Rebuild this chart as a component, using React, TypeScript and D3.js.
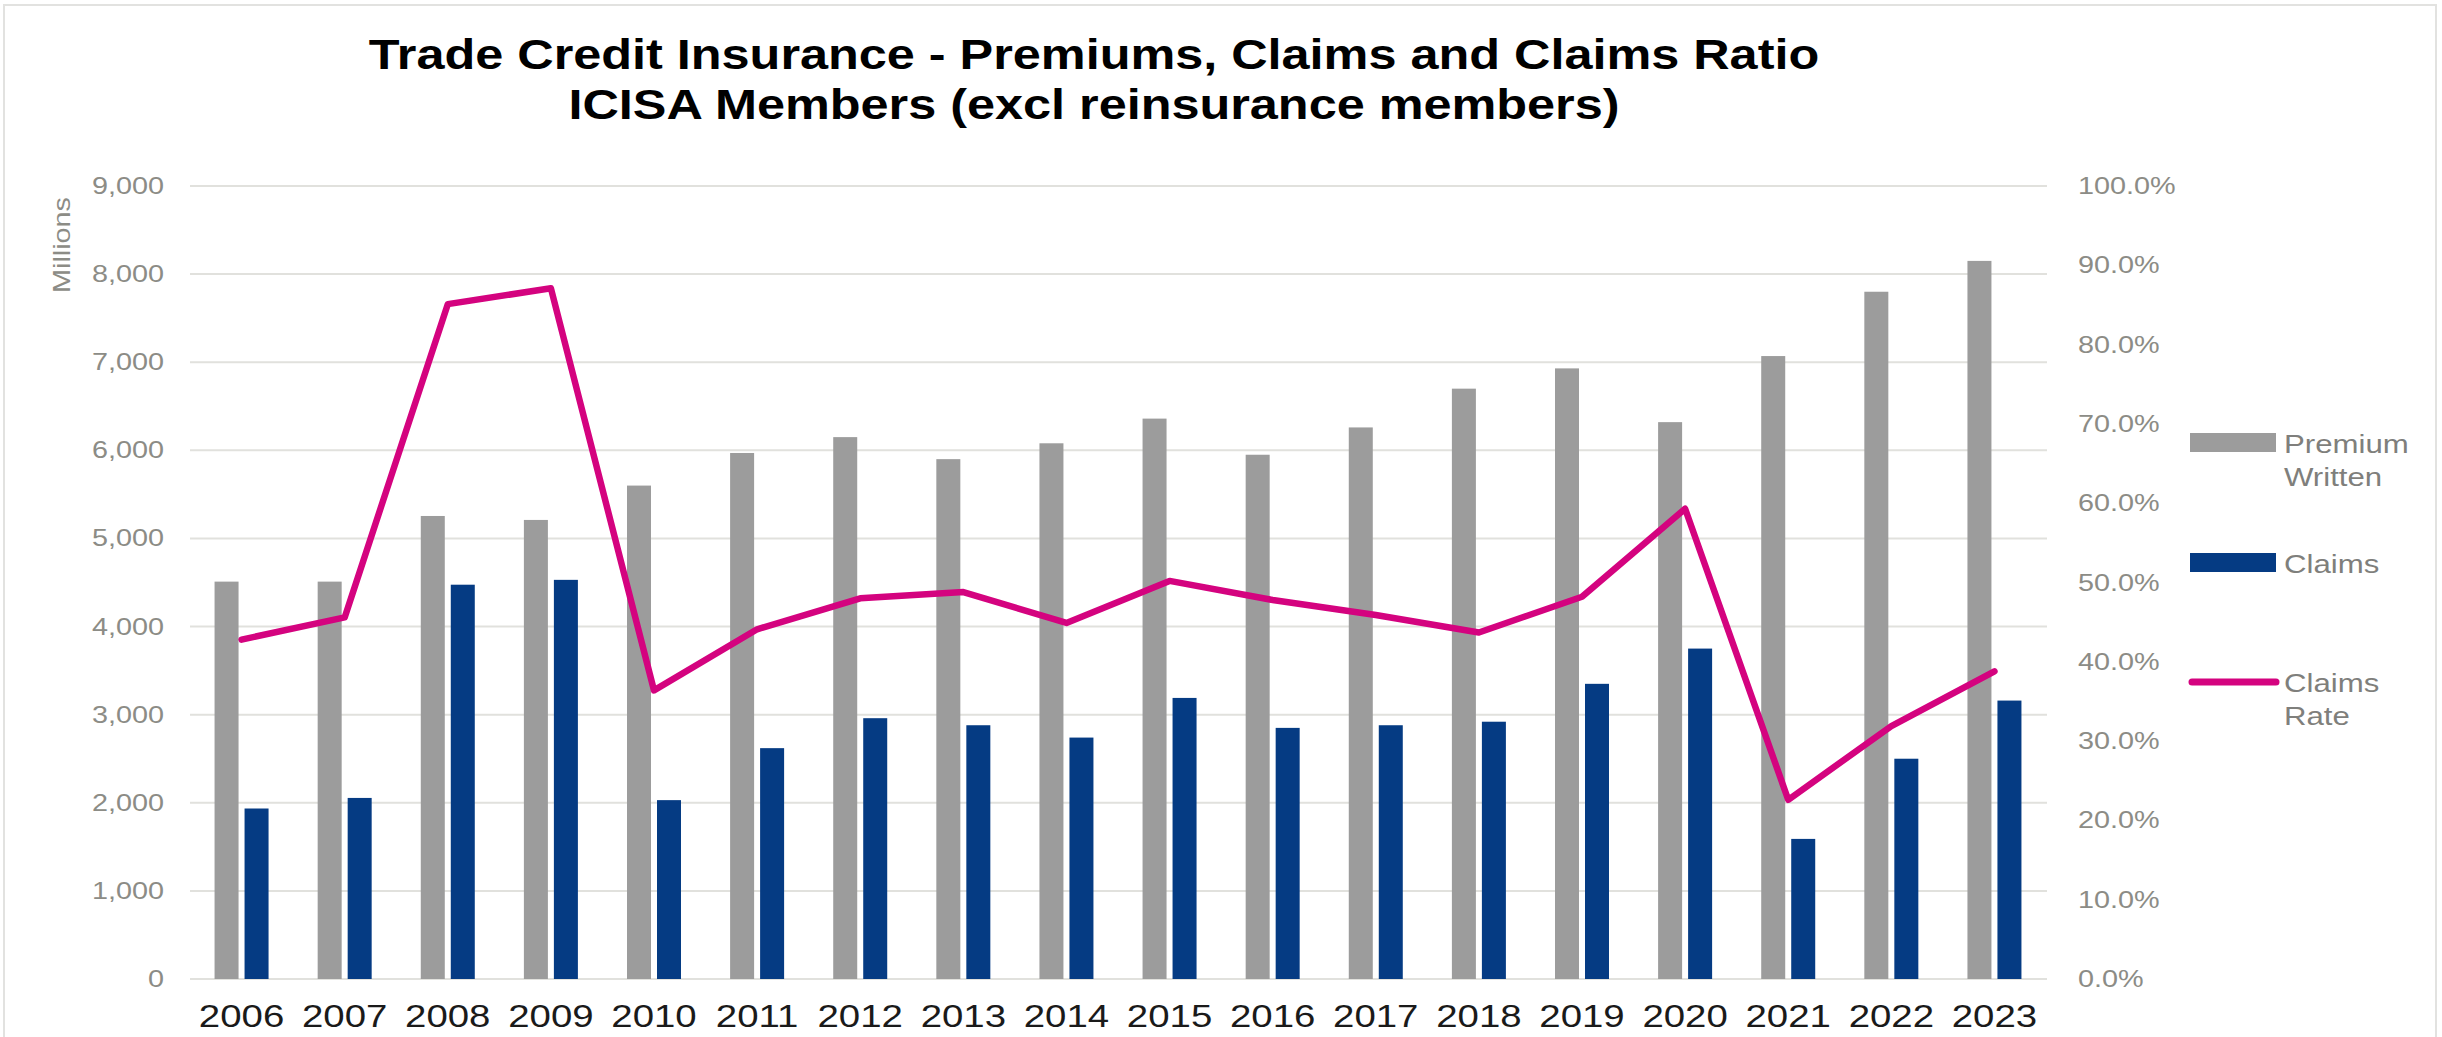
import React from "react";
import * as d3 from "d3";

// values
const years = [
	"2006", "2007", "2008", "2009", "2010", "2011", "2012", "2013", "2014",
	"2015", "2016", "2017", "2018", "2019", "2020", "2021", "2022", "2023",
];
const premiums = [
	4510, 4510, 5255, 5210, 5600, 5970, 6150, 5900, 6080,
	6360, 5950, 6260, 6700, 6930, 6320, 7070, 7800, 8150,
];
const claims = [
	1935, 2055, 4475, 4530, 2030, 2620, 2960, 2880, 2740,
	3190, 2850, 2880, 2920, 3350, 3750, 1590, 2500, 3160,
];
const claimsRate = [
	0.428, 0.456, 0.851, 0.871, 0.364, 0.441, 0.48, 0.488, 0.449,
	0.502, 0.478, 0.459, 0.437, 0.482, 0.593, 0.226, 0.319, 0.388,
];
const leftTicks = [0, 1000, 2000, 3000, 4000, 5000, 6000, 7000, 8000, 9000];
const rightTicks = [0, 0.1, 0.2, 0.3, 0.4, 0.5, 0.6, 0.7, 0.8, 0.9, 1.0];
const titleLines = [
	"Trade Credit Insurance - Premiums, Claims and Claims Ratio",
	"ICISA Members (excl reinsurance members)",
];

const W = 2442;
const H = 1037;
const GRAY = "#9c9c9c";
const BLUE = "#053b83";
const PINK = "#d4037f";
const LABEL = "#8c8c86";
const FONT = "'Liberation Sans', Arial, Helvetica, sans-serif";
const SX = 1.2; // the source picture is stretched sideways

// horizontally stretched text
function T({ x, y, children, anchor = "start", size = 24, fill = LABEL, weight = "normal" }: any) {
	return (
		<text
			transform={`translate(${x},${y}) scale(${SX},1)`}
			textAnchor={anchor}
			fontSize={size}
			fill={fill}
			fontWeight={weight}
			fontFamily={FONT}
		>
			{children}
		</text>
	);
}

export default function App() {
	const x = d3.scaleBand<string>().domain(years).range([190, 2046]);
	const inner = d3.scaleBand<string>().domain(["premium", "claims"]).range([0, 54]).paddingInner(0.2);
	const y = d3.scaleLinear().domain([0, 9000]).range([979, 186]);
	const yR = d3.scaleLinear().domain([0, 1]).range([979, 186]);
	const fmtL = d3.format(",");
	const fmtR = d3.format(".1%");

	const cx = (yr: string) => (x(yr) ?? 0) + x.bandwidth() / 2;

	const linePath = d3
		.line<number>()
		.x((_, i) => cx(years[i]))
		.y((d) => yR(d))(claimsRate);

	const legend = [
		{ kind: "bar", color: GRAY, lines: ["Premium", "Written"], y: 443 },
		{ kind: "bar", color: BLUE, lines: ["Claims"], y: 563 },
		{ kind: "line", color: PINK, lines: ["Claims", "Rate"], y: 682 },
	];

	return (
		<svg width={W} height={H} style={{ position: "absolute", left: 0, top: 0, background: "#fff" }}>
			<rect x={4} y={5} width={W - 10} height={H - 3} fill="none" stroke="#e2e2e0" strokeWidth={2} />

			{/* title */}
			{titleLines.map((t, i) => (
				<T key={t} x={1094} y={69 + i * 50} anchor="middle" size={42} fill="#000" weight="bold">
					{t}
				</T>
			))}

			{/* gridlines */}
			{leftTicks.map((t) => (
				<line key={t} x1={190} x2={2047} y1={y(t)} y2={y(t)} stroke="#e1e1dd" strokeWidth={2} />
			))}

			{/* left axis */}
			{leftTicks.map((t) => (
				<T key={t} x={164} y={y(t) + 8} anchor="end">
					{fmtL(t)}
				</T>
			))}
			<text
				transform="translate(70,245) rotate(-90)"
				textAnchor="middle"
				fontSize={24}
				fill={LABEL}
				fontFamily={FONT}
				textLength={96}
				lengthAdjust="spacingAndGlyphs"
			>
				Millions
			</text>

			{/* right axis */}
			{rightTicks.map((t) => (
				<T key={t} x={2078} y={yR(t) + 8}>
					{fmtR(t)}
				</T>
			))}

			{/* bars */}
			{years.map((yr, i) => {
				const g = cx(yr) - 27;
				return (
					<g key={yr}>
						<rect
							x={g + (inner("premium") ?? 0)}
							y={y(premiums[i])}
							width={inner.bandwidth()}
							height={y(0) - y(premiums[i])}
							fill={GRAY}
						/>
						<rect
							x={g + (inner("claims") ?? 0)}
							y={y(claims[i])}
							width={inner.bandwidth()}
							height={y(0) - y(claims[i])}
							fill={BLUE}
						/>
					</g>
				);
			})}

			{/* claims rate line */}
			<path d={linePath ?? ""} fill="none" stroke={PINK} strokeWidth={6.5} strokeLinejoin="round" strokeLinecap="round" />

			{/* year labels */}
			{years.map((yr) => (
				<T key={yr} x={cx(yr)} y={1027} anchor="middle" size={32} fill="#1a1a1a">
					{yr}
				</T>
			))}

			{/* legend */}
			{legend.map((l) => (
				<g key={l.lines.join(" ")}>
					{l.kind === "bar" ? (
						<rect x={2190} y={l.y - 10} width={86} height={19} fill={l.color} />
					) : (
						<line x1={2192} x2={2276} y1={l.y} y2={l.y} stroke={l.color} strokeWidth={7} strokeLinecap="round" />
					)}
					{l.lines.map((s, j) => (
						<T key={s} x={2284} y={l.y + 10 + j * 33} size={26} fill="#7f7f7c">
							{s}
						</T>
					))}
				</g>
			))}
		</svg>
	);
}
